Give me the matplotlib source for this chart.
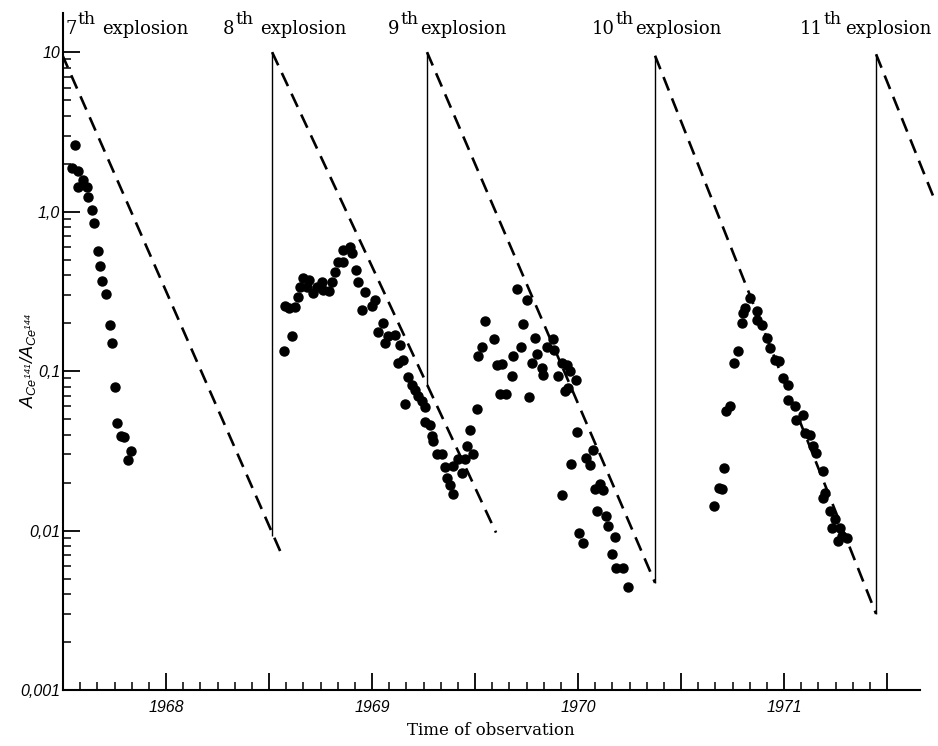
import numpy as np
import matplotlib
matplotlib.use('Agg')
import matplotlib.pyplot as plt
from matplotlib.ticker import FixedLocator, FixedFormatter, LogLocator, NullFormatter
import matplotlib.transforms as mtransforms

plt.rcParams['mathtext.fontset'] = 'custom'
plt.rcParams['mathtext.it'] = 'Liberation Sans:italic'
plt.rcParams['mathtext.rm'] = 'Liberation Sans:italic'

# measured ratios after each explosion (time in decimal years)
t_7 = [1968.058, 1968.042, 1968.074, 1968.099, 1968.074, 1968.118, 1968.123, 1968.142,
       1968.152, 1968.171, 1968.180, 1968.191, 1968.210, 1968.230, 1968.236, 1968.252,
       1968.264, 1968.280, 1968.298, 1968.329, 1968.317]
v_7 = [2.60, 1.88, 1.79, 1.57, 1.43, 1.43, 1.24, 1.03,
       0.853, 0.567, 0.455, 0.369, 0.303, 0.195, 0.150, 0.0791,
       0.0469, 0.0394, 0.0385, 0.0315, 0.0275]

t_8 = [1969.073, 1969.110, 1969.078, 1969.099, 1969.126, 1969.142, 1969.150, 1969.166,
       1969.196, 1969.183, 1969.215, 1969.232, 1969.256, 1969.264, 1969.293, 1969.304,
       1969.320, 1969.336, 1969.361, 1969.361, 1969.393, 1969.401, 1969.422, 1969.433,
       1969.466, 1969.450, 1969.515, 1969.499, 1969.555, 1969.531, 1969.579, 1969.612,
       1969.563, 1969.636, 1969.652, 1969.628, 1969.676, 1969.693, 1969.709, 1969.725,
       1969.741, 1969.757, 1969.660]
v_8 = [0.133, 0.165, 0.256, 0.248, 0.251, 0.290, 0.338, 0.386,
       0.372, 0.338, 0.307, 0.338, 0.360, 0.322, 0.318, 0.364,
       0.420, 0.485, 0.485, 0.573, 0.602, 0.546, 0.430, 0.364,
       0.315, 0.242, 0.279, 0.254, 0.201, 0.175, 0.165, 0.169,
       0.150, 0.146, 0.118, 0.112, 0.0914, 0.0821, 0.0764, 0.0695,
       0.0647, 0.0596, 0.0622]

t_9 = [1969.757, 1969.782, 1969.790, 1969.798, 1969.814, 1969.838, 1969.854, 1969.895,
       1969.919, 1969.951, 1969.935, 1969.863, 1969.879, 1969.895, 1969.976, 1969.992,
       1969.960, 1970.008, 1970.202, 1970.251, 1970.049, 1970.234, 1970.092, 1970.291,
       1970.033, 1970.016, 1970.222, 1970.186, 1970.300, 1970.275, 1970.105, 1970.130,
       1970.178, 1970.121, 1970.150, 1970.264, 1970.380, 1970.351, 1970.383, 1970.324,
       1970.332, 1970.421, 1970.448, 1970.461, 1970.404, 1970.490, 1970.453, 1970.437,
       1970.497, 1970.571, 1970.464, 1970.539, 1970.558, 1970.607, 1970.583, 1970.623,
       1970.424, 1970.591, 1970.636, 1970.647, 1970.506, 1970.680, 1970.526, 1970.664,
       1970.684, 1970.717, 1970.744]
v_9 = [0.0478, 0.0462, 0.0391, 0.0364, 0.0300, 0.0300, 0.0250, 0.0254,
       0.0279, 0.0282, 0.0230, 0.0214, 0.0193, 0.0169, 0.0424, 0.0300,
       0.0338, 0.0581, 0.327, 0.277, 0.205, 0.198, 0.159, 0.162,
       0.141, 0.125, 0.141, 0.125, 0.128, 0.113, 0.109, 0.111,
       0.0926, 0.0718, 0.0718, 0.0688, 0.159, 0.141, 0.136, 0.104,
       0.0940, 0.112, 0.109, 0.1004, 0.0926, 0.0883, 0.0783, 0.0746,
       0.0415, 0.0322, 0.0263, 0.0283, 0.0256, 0.0195, 0.0181, 0.0179,
       0.0166, 0.0133, 0.0124, 0.0106, 0.00958, 0.00917, 0.00841, 0.00711,
       0.00579, 0.00579, 0.00445]

t_10 = [1971.335, 1971.311, 1971.302, 1971.367, 1971.295, 1971.367, 1971.392, 1971.416,
        1971.432, 1971.278, 1971.257, 1971.456, 1971.477, 1971.494, 1971.521, 1971.521,
        1971.238, 1971.218, 1971.553, 1971.591, 1971.558, 1971.602, 1971.626, 1971.642,
        1971.655, 1971.691, 1971.210, 1971.186, 1971.199, 1971.160, 1971.699, 1971.688,
        1971.723, 1971.748, 1971.732, 1971.772, 1971.780, 1971.764, 1971.804]
v_10 = [0.286, 0.250, 0.230, 0.238, 0.201, 0.209, 0.195, 0.162,
        0.139, 0.134, 0.112, 0.118, 0.115, 0.0904, 0.0821, 0.0662,
        0.0607, 0.0560, 0.0602, 0.0533, 0.0496, 0.0410, 0.0400, 0.0338,
        0.0307, 0.0236, 0.0245, 0.0186, 0.0182, 0.0143, 0.0173, 0.0161,
        0.0133, 0.0118, 0.0104, 0.0104, 0.00927, 0.00862, 0.00904]

# expected decay lines (start -> end) for each explosion
decay_t0 = [1967.995, 1969.015, 1969.767, 1970.874, 1971.947]
decay_v0 = [9.7, 10.0, 10.0, 9.5, 9.7]
decay_t1 = [1969.063, 1970.102, 1970.874, 1971.947, 1972.223]
decay_v1 = [0.0070, 0.0097, 0.0047, 0.0030, 1.26]

# vertical jumps at the new explosion
jump_t = [1969.015, 1969.767, 1970.874, 1971.947]
jump_low = [0.0092, 0.081, 0.0047, 0.0030]
jump_high = [10.0, 10.0, 9.5, 9.7]

expl_num = ['7', '8', '9', '10', '11']
expl_num_x = [1968.010, 1968.777, 1969.578, 1970.568, 1971.578]
expl_word_x = [1968.189, 1968.956, 1969.733, 1970.777, 1971.796]

year_labels = ['1968', '1969', '1970', '1971']
ytick_vals = [0.001, 0.01, 0.1, 1.0, 10.0]
ytick_labels = ['0,001', '0,01', '0,1', '1,0', '10']

fig = plt.figure(figsize=(9.38, 7.46), dpi=100)
ax = fig.add_axes([0.0672, 0.0751, 0.9307, 0.9075])
ax.set_yscale('log')
ax.set_xlim(1968.0, 1972.238)
ax.set_ylim(0.001, 17.6)

for a, b, c, d in zip(decay_t0, decay_v0, decay_t1, decay_v1):
    ax.plot([a, c], [b, d], color='black', lw=1.9, ls=(0, (5.5, 3.2)),
            dash_capstyle='butt')
ax.vlines(jump_t, jump_low, jump_high, color='black', lw=1.0)

for t, v in [(t_7, v_7), (t_8, v_8), (t_9, v_9), (t_10, v_10)]:
    ax.plot(t, v, 'o', color='black', ms=6.5, ls='none')

# axes look
for s in ['top', 'right']:
    ax.spines[s].set_visible(False)
ax.spines['left'].set_linewidth(1.5)
ax.spines['bottom'].set_linewidth(1.5)
ax.spines['bottom'].set_bounds(1968.0, 1972.16)

ax.yaxis.set_major_locator(FixedLocator(ytick_vals))
ax.yaxis.set_major_formatter(FixedFormatter(ytick_labels))
ax.yaxis.set_minor_locator(LogLocator(base=10, subs=np.arange(2, 10)))
ax.yaxis.set_minor_formatter(NullFormatter())

half_years = np.arange(1968.5, 1972.01, 0.5)
xlabels = []
for h in half_years:
    xlabels.append(str(int(h)) if (h % 1) > 0.25 and str(int(h)) in year_labels else '')
ax.xaxis.set_major_locator(FixedLocator(half_years))
ax.xaxis.set_major_formatter(FixedFormatter(xlabels))
ax.xaxis.set_minor_locator(FixedLocator(1968 + np.arange(1, 49) / 12))

ax.tick_params(which='major', direction='in', length=12, width=1.3)
ax.tick_params(which='minor', direction='in', length=6, width=1.1)
ax.tick_params(axis='x', which='major', pad=7)
ax.tick_params(axis='y', which='major', pad=2)
for lab in ax.get_xticklabels() + ax.get_yticklabels():
    lab.set_fontfamily('Liberation Sans')
    lab.set_fontstyle('italic')
    lab.set_fontsize(11.5)

ax.set_xlabel('Time of observation', family='DejaVu Serif', fontsize=12)
ax.xaxis.set_label_coords(0.49, -0.047)
ax.set_ylabel(r'$A_{Ce^{141}}/A_{Ce^{144}}$', fontsize=13)
ax.yaxis.set_label_coords(-0.029, 0.487)

trans = mtransforms.blended_transform_factory(ax.transData, ax.transAxes)
for num, nx, wx in zip(expl_num, expl_num_x, expl_word_x):
    tn = ax.text(nx, 0.969, num, transform=trans, family='DejaVu Serif',
                 fontsize=13, va='baseline', ha='left')
    ax.annotate('th', xy=(1, 0), xycoords=tn, xytext=(0.5, 7.5),
                textcoords='offset points', family='DejaVu Serif',
                fontsize=12.5, va='bottom', ha='left')
    ax.text(wx, 0.969, 'explosion', transform=trans, family='DejaVu Serif',
            fontsize=13, va='baseline', ha='left')

fig.savefig('out.png', dpi=100)
